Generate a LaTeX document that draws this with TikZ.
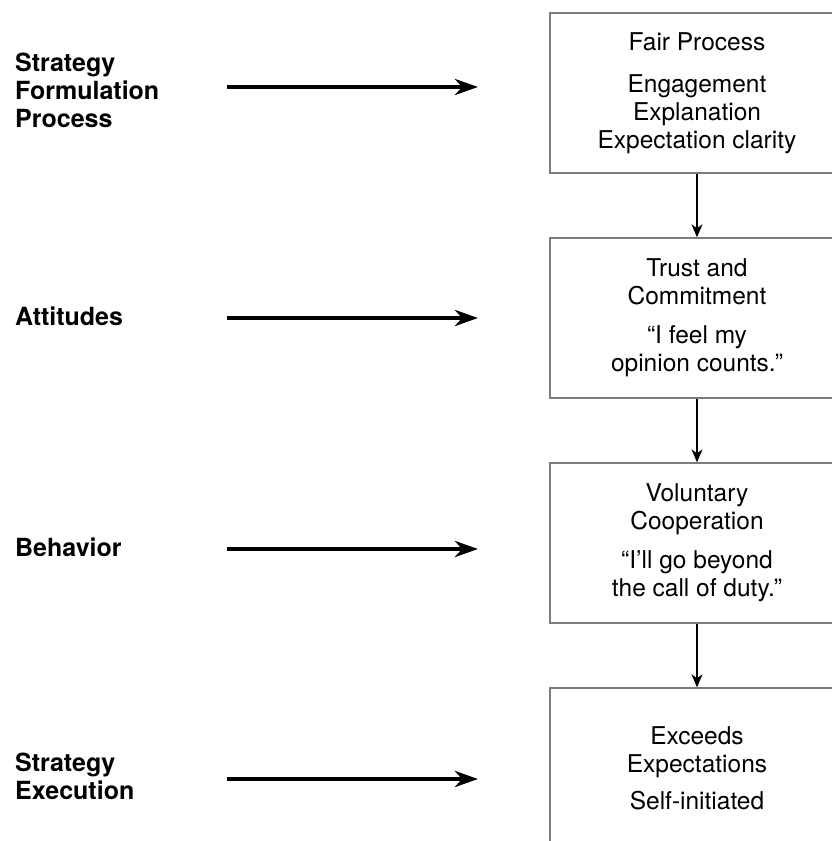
\documentclass[tikz,border=0pt]{standalone}
\usepackage{fontspec}
\setmainfont{TeX Gyre Heros}
\usetikzlibrary{arrows.meta}
\definecolor{boxline}{RGB}{125,125,125}
\tikzset{
  stagebox/.style={draw=boxline, line width=1.4pt, minimum width=294pt,
    minimum height=160pt, inner sep=0pt, align=center,
    font=\fontsize{24.5}{28}\selectfont},
  sidelabel/.style={anchor=west, inner sep=0pt, align=left,
    font=\fontsize{25}{28}\selectfont\bfseries},
  bigarrow/.style={line width=4.6pt,
    -{Stealth[length=23pt,width=16pt,inset=7pt]}},
  linkarrow/.style={line width=1.4pt,
    -{Stealth[length=13pt,width=11pt,inset=4pt]}}
}
\begin{document}
\begin{tikzpicture}[x=1pt,y=-1pt]
  \useasboundingbox (0,0) rectangle (832,841);
  \clip (0,0) rectangle (832,841);
  \fill[white] (0,0) rectangle (832,841);

  % stages of the chain, one box each
  \node[stagebox] (fair) at (697,93)
    {Fair Process\\[14pt]Engagement\\Explanation\\Expectation clarity};
  \node[stagebox] (trust) at (697,318)
    {Trust and\\Commitment\\[11pt]“I feel my\\opinion counts.”};
  \node[stagebox] (coop) at (697,543)
    {Voluntary\\Cooperation\\[11pt]“I’ll go beyond\\the call of duty.”};
  \node[stagebox] (exceed) at (697,768)
    {Exceeds\\Expectations\\[9pt]Self-initiated};

  % links between the stages
  \draw[linkarrow] (fair.south) -- (trust.north);
  \draw[linkarrow] (trust.south) -- (coop.north);
  \draw[linkarrow] (coop.south) -- (exceed.north);

  % row labels on the left
  \node[sidelabel] (formulation) at (15,90) {Strategy\\Formulation\\Process};
  \node[sidelabel] (attitudes) at (15,316) {Attitudes};
  \node[sidelabel] (behavior) at (15,547) {Behavior};
  \node[sidelabel] (execution) at (15,776) {Strategy\\Execution};

  % arrow ends for each row
  \coordinate (a1s) at (227,87);  \coordinate (a1e) at (478,87);
  \coordinate (a2s) at (227,318); \coordinate (a2e) at (478,318);
  \coordinate (a3s) at (227,549); \coordinate (a3e) at (478,549);
  \coordinate (a4s) at (227,779); \coordinate (a4e) at (478,779);

  \draw[bigarrow] (a1s) -- (a1e);
  \draw[bigarrow] (a2s) -- (a2e);
  \draw[bigarrow] (a3s) -- (a3e);
  \draw[bigarrow] (a4s) -- (a4e);
\end{tikzpicture}
\end{document}
